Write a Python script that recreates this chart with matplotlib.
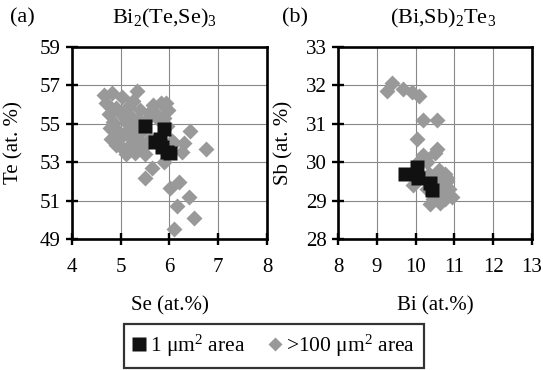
import matplotlib
matplotlib.use("Agg")
import matplotlib.pyplot as plt
from matplotlib.lines import Line2D

plt.rcParams['font.family'] = ['Liberation Serif', 'DejaVu Serif']
plt.rcParams['mathtext.fontset'] = 'custom'
plt.rcParams['mathtext.rm'] = 'Liberation Serif'
plt.rcParams['mathtext.default'] = 'regular'

# (a) Bi2(Te,Se)3 : Se vs Te (at.%)
se_small = [5.5, 5.88, 5.71, 5.8, 5.85, 6.02, 5.95]
te_small = [54.9, 54.75, 54.05, 54.2, 53.8, 53.5, 53.55]

se_large = [4.65, 4.82, 4.7, 5.03, 5.34, 5.25, 5.15, 4.9, 4.75, 5.0, 5.2, 5.4,
            5.6, 5.67, 5.92, 5.96, 5.88, 5.75, 5.55, 5.35, 5.1, 4.85, 4.78, 4.95,
            5.15, 5.3, 5.4, 5.2, 5.0, 4.8, 4.9, 5.05, 5.2, 5.35, 5.45, 5.3, 5.1,
            5.5, 5.6, 5.71, 5.82, 6.1, 6.3, 6.26, 6.43, 6.74, 5.88, 5.65, 5.5,
            6.02, 6.19, 6.39, 6.16, 6.5, 6.1, 5.95, 6.05]
te_large = [56.5, 56.6, 56.1, 56.4, 56.7, 56.2, 55.9, 55.8, 55.5, 55.5, 55.4, 55.7,
            55.6, 56.0, 56.1, 55.7, 55.3, 55.3, 55.3, 55.2, 55.1, 55.1, 54.8, 54.6,
            54.7, 54.8, 54.5, 54.3, 54.3, 54.2, 53.9, 53.7, 53.9, 54.1, 53.8, 53.5, 53.45,
            53.45, 54.2, 55.55, 56.1, 53.98, 54.0, 53.55, 54.6, 53.7, 53.0, 52.7, 52.2,
            51.65, 51.97, 51.2, 50.7, 50.1, 49.5, 54.9, 54.1]

# (b) (Bi,Sb)2Te3 : Bi vs Sb (at.%)
bi_small = [9.73, 10.04, 10.07, 10.37, 10.42]
sb_small = [29.7, 29.88, 29.6, 29.45, 29.28]

bi_large = [9.39, 9.26, 9.68, 9.9, 10.09, 10.19, 10.55, 10.03, 10.55, 10.2, 10.3,
            10.25, 9.93, 10.5, 10.35, 10.6, 10.75, 10.8, 10.85, 10.94, 10.7, 10.6,
            10.5, 10.37, 10.63, 10.45, 10.75, 10.3, 10.6, 10.8, 10.7, 10.1]
sb_large = [32.05, 31.85, 31.9, 31.83, 31.72, 31.1, 31.1, 30.6, 30.35, 30.2, 30.0,
            30.1, 29.4, 30.25, 29.7, 29.8, 29.7, 29.5, 29.3, 29.1, 29.2, 29.45,
            29.1, 28.9, 28.94, 29.05, 29.05, 29.3, 29.6, 29.6, 29.35, 30.05]

gray = '#999999'
black = '#111111'

fig = plt.figure(figsize=(5.43, 3.70), dpi=100)
ax1 = fig.add_axes([0.1326, 0.3541, 0.3591, 0.5189])
ax2 = fig.add_axes([0.6225, 0.3541, 0.3573, 0.5189])


def style(ax, xlim, ylim, xlabel, ylabel, ylab_x):
    ax.set_xlim(*xlim)
    ax.set_ylim(*ylim)
    ax.grid(True, color='#888888', lw=0.8)
    ax.set_axisbelow(True)
    for s in ax.spines.values():
        s.set_linewidth(1.9)
    ax.tick_params(direction='inout', length=8, width=1.7, labelsize=15)
    ax.tick_params(axis='x', pad=10)
    ax.tick_params(axis='y', pad=4)
    ax.set_xlabel(xlabel, fontsize=15)
    ax.set_ylabel(ylabel, fontsize=15)
    ax.xaxis.set_label_coords(0.5, -0.30)
    ax.yaxis.set_label_coords(ylab_x, 0.5)


ax1.plot(se_large, te_large, 'D', color=gray, ms=8.5, mec='none', zorder=3)
ax1.plot(se_small, te_small, 's', color=black, ms=10, mec='none', zorder=4)
style(ax1, (4, 8), (49, 59), 'Se (at.%)', 'Te (at. %)', -0.25)
ax1.set_xticks([4, 5, 6, 7, 8])
ax1.set_yticks([49, 51, 53, 55, 57, 59])

ax2.plot(bi_large, sb_large, 'D', color=gray, ms=8.5, mec='none', zorder=3)
ax2.plot(bi_small, sb_small, 's', color=black, ms=10, mec='none', zorder=4)
style(ax2, (8, 13), (28, 33), 'Bi (at.%)', 'Sb (at. %)', -0.23)
ax2.set_xticks([8, 9, 10, 11, 12, 13])
ax2.set_yticks([28, 29, 30, 31, 32, 33])

fig.text(22 / 543, 1 - 18 / 370, '(a)', fontsize=16, ha='center', va='center')
fig.text(164 / 543, 1 - 18 / 370, 'Bi$_2$(Te,Se)$_3$', fontsize=16, ha='center', va='center')
fig.text(295 / 543, 1 - 18 / 370, '(b)', fontsize=16, ha='center', va='center')
fig.text(443 / 543, 1 - 18 / 370, '(Bi,Sb)$_2$Te$_3$', fontsize=16, ha='center', va='center')

handles = [
    Line2D([], [], ls='none', marker='s', color=black, ms=10, mec='none'),
    Line2D([], [], ls='none', marker='D', color=gray, ms=7.5, mec='none'),
]
labels = ['1 μm$^2$ area', '>100 μm$^2$ area']
leg = fig.legend(handles, labels, loc='center', bbox_to_anchor=(274 / 543, 1 - 346 / 370),
                 ncol=2, fontsize=15.5, frameon=True, fancybox=False, handlelength=0.6,
                 handletextpad=0.2, columnspacing=1.1, borderpad=0.4)
leg.get_frame().set_edgecolor('black')
leg.get_frame().set_linewidth(1.6)

fig.savefig('out.png', dpi=100)
